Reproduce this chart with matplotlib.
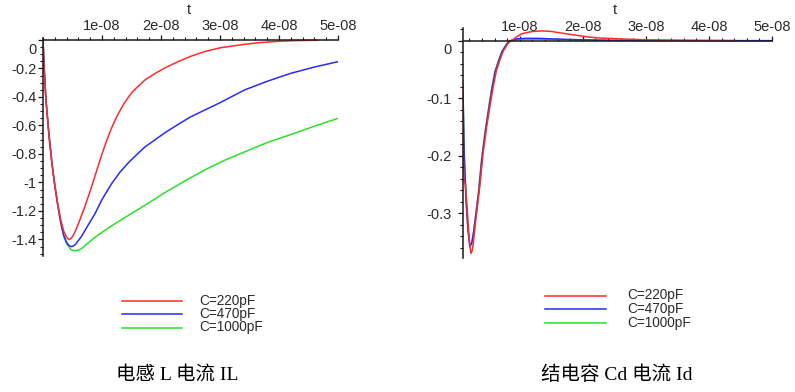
import numpy as np
import matplotlib
matplotlib.use("Agg")
import matplotlib.pyplot as plt
from matplotlib.ticker import FixedLocator, MultipleLocator
from matplotlib.transforms import ScaledTranslation
from matplotlib.lines import Line2D

plt.rcParams['font.family'] = ['Liberation Sans', 'DejaVu Sans']

# ---------------- data (time in units of 1e-8 s) ----------------
# Left: inductor current IL
t_L_red = [0, 0.02, 0.05, 0.10, 0.15, 0.20, 0.25, 0.30, 0.35, 0.40, 0.44, 0.47, 0.50, 0.55,
           0.60, 0.70, 0.80, 0.90, 1.00, 1.08, 1.16, 1.23, 1.30, 1.37, 1.45, 1.52, 1.60,
           1.73, 1.90, 2.07, 2.30, 2.50, 2.75, 3.00, 3.42, 3.68, 4.00, 4.30, 4.65]
IL_red = [0, -0.20, -0.42, -0.66, -0.86, -1.02, -1.15, -1.26, -1.34, -1.385, -1.40, -1.395,
          -1.38, -1.34, -1.29, -1.18, -1.06, -0.93, -0.80, -0.705, -0.62, -0.555, -0.50,
          -0.448, -0.40, -0.362, -0.33, -0.28, -0.235, -0.195, -0.15, -0.115, -0.08,
          -0.055, -0.03, -0.018, -0.009, -0.004, -0.002]

t_L_blue = [0, 0.02, 0.05, 0.10, 0.15, 0.20, 0.25, 0.30, 0.35, 0.40, 0.44, 0.47, 0.51, 0.55,
            0.65, 0.75, 0.88, 1.00, 1.16, 1.30, 1.45, 1.60, 1.73, 1.90, 2.07, 2.30, 2.50,
            2.75, 3.00, 3.42, 3.80, 4.19, 4.60, 5.00]
IL_blue = [0, -0.20, -0.42, -0.66, -0.86, -1.02, -1.16, -1.28, -1.37, -1.42, -1.442, -1.45,
           -1.447, -1.435, -1.38, -1.31, -1.22, -1.12, -1.01, -0.93, -0.86, -0.80, -0.75,
           -0.70, -0.65, -0.59, -0.54, -0.49, -0.44, -0.35, -0.29, -0.235, -0.19, -0.152]

t_L_green = [0, 0.02, 0.05, 0.10, 0.15, 0.20, 0.25, 0.30, 0.35, 0.40, 0.47, 0.51, 0.55, 0.60,
             0.65, 0.75, 0.88, 1.00, 1.16, 1.45, 1.73, 2.07, 2.40, 2.75, 3.10, 3.42, 3.80,
             4.19, 4.60, 5.00]
IL_green = [0, -0.20, -0.42, -0.66, -0.86, -1.02, -1.16, -1.28, -1.375, -1.43, -1.47, -1.478,
            -1.48, -1.475, -1.465, -1.43, -1.385, -1.35, -1.305, -1.23, -1.16, -1.07, -0.99,
            -0.91, -0.84, -0.785, -0.72, -0.665, -0.605, -0.55]

# Right: junction capacitance current Id
t_R_red = [0.10, 0.10, 0.105, 0.12, 0.137, 0.163, 0.19, 0.21, 0.227, 0.245, 0.26, 0.30, 0.37,
           0.42, 0.475, 0.53, 0.58, 0.63, 0.69, 0.74, 0.82, 0.87, 0.93, 1.03, 1.20, 1.35,
           1.50, 1.67, 1.98, 2.20, 2.60, 3.00, 3.50, 4.00, 4.40]
Id_red = [-0.07, -0.15, -0.20, -0.245, -0.25, -0.286, -0.332, -0.358, -0.370, -0.366, -0.355,
          -0.315, -0.25, -0.195, -0.150, -0.112, -0.080, -0.052, -0.032, -0.018, -0.004,
          0.0, 0.005, 0.012, 0.016, 0.017, 0.016, 0.013, 0.008, 0.005, 0.003, 0.0015,
          0.0007, 0.0003, 0.0001]

t_R_blue = [0.10, 0.12, 0.15, 0.18, 0.21, 0.24, 0.27, 0.35, 0.40, 0.455, 0.51, 0.56, 0.61,
            0.67, 0.72, 0.80, 0.85, 0.95, 1.10, 1.30, 1.50, 1.80, 2.20, 3.00, 4.00, 5.00]
Id_blue = [-0.09, -0.20, -0.28, -0.33, -0.358, -0.352, -0.332, -0.263, -0.205, -0.158, -0.118,
           -0.083, -0.054, -0.034, -0.019, -0.005, 0.0, 0.003, 0.004, 0.004, 0.003, 0.002,
           0.001, 0.0003, 0.0001, 0.0]

t_R_green = [0.10, 0.12, 0.15, 0.18, 0.21, 0.24, 0.27, 0.345, 0.395, 0.45, 0.505, 0.555,
             0.605, 0.665, 0.715, 0.795, 0.85, 1.00, 1.30, 1.80, 2.35]
Id_green = [-0.09, -0.20, -0.28, -0.33, -0.357, -0.351, -0.331, -0.263, -0.205, -0.158, -0.118,
            -0.083, -0.054, -0.034, -0.019, -0.005, 0.0, 0.002, 0.0025, 0.0015, 0.0005]

x_ticks = [1e-8, 2e-8, 3e-8, 4e-8, 5e-8]
x_ticklabels = ["1e-08", "2e-08", "3e-08", "4e-08", "5e-08"]
yL_ticks = [0, -0.2, -0.4, -0.6, -0.8, -1.0, -1.2, -1.4]
yL_ticklabels = ["0", "-0.2", "-0.4", "-0.6", "-0.8", "-1", "-1.2", "-1.4"]
yR_ticks = [0, -0.1, -0.2, -0.3]
yR_ticklabels = ["0", "-0.1", "-0.2", "-0.3"]

series_labels = ["C=220pF", "C=470pF", "C=1000pF"]
colors = ["#ff2a2a", "#2a2aff", "#2ae02a"]
captions = ["电感 L 电流 IL", "结电容 Cd 电流 Id"]

SCALE = 1e-8
W, H = 795, 392
fig = plt.figure(figsize=(W / 100, H / 100), dpi=100)

def px_axes(x0, x1, ytop, ybot):
    return fig.add_axes([x0 / W, 1 - ybot / H, (x1 - x0) / W, (ybot - ytop) / H])

TXT = "#2a2a2a"

def style(ax, yticks, yticklabels, xminor, yminor, ypad):
    for s in ['right', 'bottom']:
        ax.spines[s].set_visible(False)
    ax.spines['top'].set_position(('data', 0))
    for s in ['top', 'left']:
        ax.spines[s].set_color('#1a1a1a')
        ax.spines[s].set_linewidth(1.1)
    ax.xaxis.tick_top()
    ax.xaxis.set_major_locator(FixedLocator(x_ticks))
    ax.set_xticklabels(x_ticklabels)
    ax.xaxis.set_minor_locator(MultipleLocator(xminor))
    ax.yaxis.set_major_locator(FixedLocator(yticks))
    ax.set_yticklabels(yticklabels)
    ax.yaxis.set_minor_locator(MultipleLocator(yminor))
    ax.tick_params(axis='x', which='major', direction='out', length=3.5, width=0.9,
                   pad=1.5, labelsize=10.5, labelcolor=TXT, color='#1a1a1a')
    ax.tick_params(axis='x', which='minor', direction='out', length=2.5, width=0.8,
                   color='#1a1a1a')
    ax.tick_params(axis='y', which='major', direction='out', length=3.5, width=0.9,
                   pad=ypad, labelsize=10.5, labelcolor=TXT, color='#1a1a1a')
    ax.tick_params(axis='y', which='minor', direction='out', length=2.5, width=0.8,
                   color='#1a1a1a')
    ax.patch.set_alpha(0)
    # shift the "0" label down, as in the original
    for lab, val in zip(ax.get_yticklabels(), yticks):
        if val == 0:
            lab.set_transform(lab.get_transform() +
                              ScaledTranslation(0, -6 / 72, fig.dpi_scale_trans))

# ---------- left plot ----------
axL = px_axes(43, 338, 38, 256)
axL.plot(np.array(t_L_green) * SCALE, IL_green, color=colors[2], lw=1.1)
axL.plot(np.array(t_L_blue) * SCALE, IL_blue, color=colors[1], lw=1.1)
axL.plot(np.array(t_L_red) * SCALE, IL_red, color=colors[0], lw=1.1)
axL.set_xlim(0, 5e-8)
axL.set_ylim(-1.516, 0.014)
style(axL, yL_ticks, yL_ticklabels, 0.2e-8, 0.05, 1.0)

# ---------- right plot ----------
axR = px_axes(463, 772, 28, 258)
axR.plot(np.array(t_R_green) * SCALE, Id_green, color=colors[2], lw=1.1)
axR.plot(np.array(t_R_blue) * SCALE, Id_blue, color=colors[1], lw=1.1)
axR.plot(np.array(t_R_red) * SCALE, Id_red, color=colors[0], lw=1.1)
axR.set_xlim(0.1e-8, 5e-8)
axR.set_ylim(-0.378, 0.022)
style(axR, yR_ticks, yR_ticklabels, 0.2e-8, 0.02, 5.0)

# axis title "t"
fig.text(189 / W, 1 - 10 / H, "t", ha='center', va='center', fontsize=10.5, color=TXT)
fig.text(615 / W, 1 - 10 / H, "t", ha='center', va='center', fontsize=10.5, color=TXT)

# legends (drawn in figure pixel coordinates)
def legend(xl0, xl1, xt, ys):
    for c, lab, y in zip(colors, series_labels, ys):
        fig.add_artist(Line2D([xl0 / W, xl1 / W], [1 - y / H, 1 - y / H],
                              color=c, lw=1.1, transform=fig.transFigure))
        fig.text(xt / W, 1 - y / H, lab, ha='left', va='center', fontsize=9.8,
                 color=TXT)

legend(122, 182, 199, [300.5, 314, 327.5])
legend(545, 606, 627, [295.5, 309, 322.5])

# captions
cap_font = ['Liberation Serif', 'Noto Sans CJK SC']
fig.text(177 / W, 1 - 375 / H, captions[0], ha='center', va='center', fontsize=14,
         family=cap_font, color='black')
fig.text(617 / W, 1 - 375 / H, captions[1], ha='center', va='center', fontsize=14,
         family=cap_font, color='black')

fig.savefig("out.png", dpi=100, facecolor='white')
